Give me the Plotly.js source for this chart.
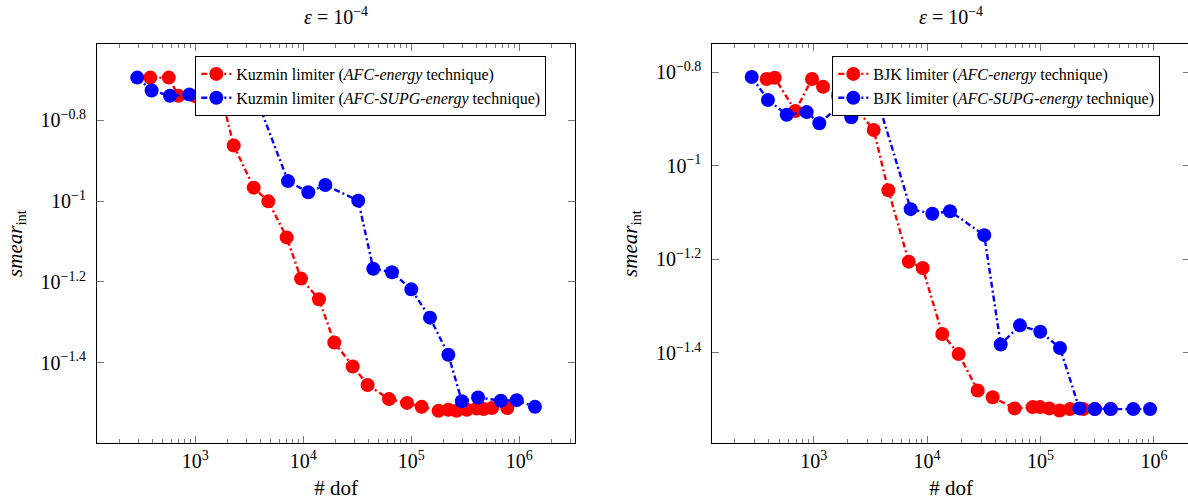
<!DOCTYPE html>
<html><head><meta charset="utf-8">
<script src="https://cdn.plot.ly/plotly-3.0.1.min.js"></script>
<style>html,body{margin:0;padding:0;overflow:hidden;background:#fff}</style>
</head><body><div id="chart" style="width:1190px;height:501px"></div>
<script>
// ---- data ----
const kuzminAfcDof   = [383, 568, 697, 994, 1339, 1815, 2268, 3474, 4742, 7015, 9528, 13964, 19364, 28650, 39430, 62200, 91300, 124700, 178600, 220300, 262400, 326000, 403300, 468200, 558600, 774000];
const kuzminAfcSmear = [0.2018, 0.2018, 0.1820, 0.1816, 0.1786, 0.1742, 0.1372, 0.1079, 0.0998, 0.0813, 0.0643, 0.0572, 0.0447, 0.0390, 0.0351, 0.0324, 0.0317, 0.0310, 0.0303, 0.0305, 0.0303, 0.0305, 0.0307, 0.0306, 0.0308, 0.0308];

const kuzminSupgDof   = [290, 394, 583, 880, 1283, 1845, 2594, 3648, 7211, 11120, 15990, 32270, 44460, 66220, 100000, 148900, 220300, 293800, 415000, 674500, 946000, 1396000];
const kuzminSupgSmear = [0.2018, 0.1876, 0.1820, 0.1832, 0.1816, 0.1814, 0.1810, 0.1806, 0.1120, 0.1051, 0.1095, 0.1002, 0.0680, 0.0667, 0.0605, 0.0515, 0.0417, 0.0320, 0.0327, 0.0321, 0.0322, 0.0310];

const bjkAfcDof   = [385, 453, 689, 966, 1208, 1637, 2234, 3381, 4550, 6887, 9140, 13610, 19000, 27920, 37860, 59160, 85300, 99000, 119400, 147200, 182000, 238400, 302700, 418800];
const bjkAfcSmear = [0.1534, 0.1543, 0.1310, 0.1534, 0.1476, 0.1410, 0.1349, 0.1193, 0.0887, 0.0624, 0.0605, 0.0437, 0.0396, 0.0331, 0.0320, 0.0303, 0.0305, 0.0305, 0.0303, 0.0300, 0.0302, 0.0302, 0.0302, 0.0302];

const bjkSupgDof   = [284, 395, 578, 867, 1120, 1766, 2147, 3715, 7164, 11120, 15920, 31910, 44560, 65920, 99500, 148600, 219800, 300600, 414000, 657700, 924700];
const bjkSupgSmear = [0.1549, 0.1383, 0.1286, 0.1303, 0.1233, 0.1356, 0.1270, 0.1365, 0.0808, 0.0790, 0.0800, 0.0711, 0.0415, 0.0456, 0.0442, 0.0408, 0.0303, 0.0302, 0.0302, 0.0302, 0.0302];

const seriesNames = [
  'Kuzmin limiter (<i>AFC-energy</i> technique)',
  'Kuzmin limiter (<i>AFC-SUPG-energy</i> technique)',
  'BJK limiter (<i>AFC-energy</i> technique)',
  'BJK limiter (<i>AFC-SUPG-energy</i> technique)'
];
const xTickVals = [1e3, 1e4, 1e5, 1e6];
const xTickText = ['10<sup>3</sup>', '10<sup>4</sup>', '10<sup>5</sup>', '10<sup>6</sup>'];
const yTickExps = [-0.8, -1, -1.2, -1.4];
const yTickText = ['10<sup>−0.8</sup>', '10<sup>−1</sup>', '10<sup>−1.2</sup>', '10<sup>−1.4</sup>'];
const subplotTitle = '<i>ε</i> = 10<sup>−4</sup>';
const xTitle = '# dof';
const yTitle = '<i>smear</i><sub>int</sub>';

// ---- styling ----
const FONT = '"Liberation Serif", "Times New Roman", serif';
const RED = '#ff0000', BLUE = '#0000ff';
const DASH = '6px,3px,2px,3px';
const yTickVals = yTickExps.map(e => Math.pow(10, e));
const minorVals = [];
for (let k = 2; k <= 6; k++) for (let m = 2; m <= 9; m++) minorVals.push(m * Math.pow(10, k));

function trace(x, y, name, color, xa, ya, lg) {
  return { x, y, name, type: 'scatter', mode: 'lines+markers', xaxis: xa, yaxis: ya, legend: lg,
    line: { color, width: 2.4, dash: DASH }, marker: { color, size: 14, line: { width: 0 } } };
}
const data = [
  trace(kuzminAfcDof, kuzminAfcSmear, seriesNames[0], RED, 'x', 'y', 'legend'),
  trace(kuzminSupgDof, kuzminSupgSmear, seriesNames[1], BLUE, 'x', 'y', 'legend'),
  trace(bjkAfcDof, bjkAfcSmear, seriesNames[2], RED, 'x2', 'y2', 'legend2'),
  trace(bjkSupgDof, bjkSupgSmear, seriesNames[3], BLUE, 'x2', 'y2', 'legend2')
];

const W = 1190, H = 501;
function xaxis(domain, range, anchor) {
  return { type: 'log', domain, range, anchor, showgrid: false, zeroline: false,
    showline: true, linecolor: '#000', linewidth: 1, mirror: 'allticks',
    ticks: 'inside', ticklen: 7, tickwidth: 1, tickcolor: '#777',
    tickmode: 'array', tickvals: xTickVals, ticktext: xTickText,
    tickfont: { family: FONT, size: 20, color: '#000' },
    minor: { tickmode: 'array', tickvals: minorVals, ticks: 'inside', ticklen: 4, tickcolor: '#777', tickwidth: 1, showgrid: false },
    title: { text: xTitle, font: { family: FONT, size: 21, color: '#000' }, standoff: 9 },
    automargin: false };
}
function yaxis(domain, range, anchor) {
  return { type: 'log', domain, range, anchor, showgrid: false, zeroline: false,
    showline: true, linecolor: '#000', linewidth: 1, mirror: 'allticks',
    ticks: 'inside', ticklen: 7, tickwidth: 1, tickcolor: '#777',
    tickmode: 'array', tickvals: yTickVals, ticktext: yTickText,
    tickfont: { family: FONT, size: 20, color: '#000' }, ticklabelstandoff: 6,
    title: { text: yTitle, font: { family: FONT, size: 21, color: '#000' }, standoff: 12 },
    automargin: false };
}
const yDom = [1 - 443 / H, 1 - 44 / H];
const legendCommon = { xanchor: 'left', yanchor: 'top', bgcolor: '#fff', bordercolor: '#000', borderwidth: 1,
  font: { family: FONT, size: 16, color: '#000' }, tracegroupgap: 0, itemwidth: 30 };
const layout = {
  width: W, height: H, margin: { l: 0, r: 0, t: 0, b: 0 },
  paper_bgcolor: '#fff', plot_bgcolor: '#fff',
  font: { family: FONT, color: '#000' },
  xaxis: xaxis([97 / W, 575 / W], [2.0898, 6.5157], 'y'),
  yaxis: yaxis(yDom, [-1.598, -0.612], 'x'),
  xaxis2: xaxis([712.3 / W, 1], [2.1058, 6.3183], 'y2'),
  yaxis2: yaxis(yDom, [-1.5925, -0.7395], 'x2'),
  legend: Object.assign({ x: 195.3 / W, y: 1 - 56 / H }, legendCommon),
  legend2: Object.assign({ x: 832.3 / W, y: 1 - 56 / H }, legendCommon),
  showlegend: true,
  annotations: [
    { text: subplotTitle, xref: 'paper', yref: 'paper', x: 336 / W, y: 1 - 16 / H, xanchor: 'center', yanchor: 'middle', showarrow: false, font: { family: FONT, size: 20, color: '#000' } },
    { text: subplotTitle, xref: 'paper', yref: 'paper', x: 951 / W, y: 1 - 16 / H, xanchor: 'center', yanchor: 'middle', showarrow: false, font: { family: FONT, size: 20, color: '#000' } }
  ]
};
Plotly.newPlot('chart', data, layout, { staticPlot: true, displayModeBar: false });
</script></body></html>
